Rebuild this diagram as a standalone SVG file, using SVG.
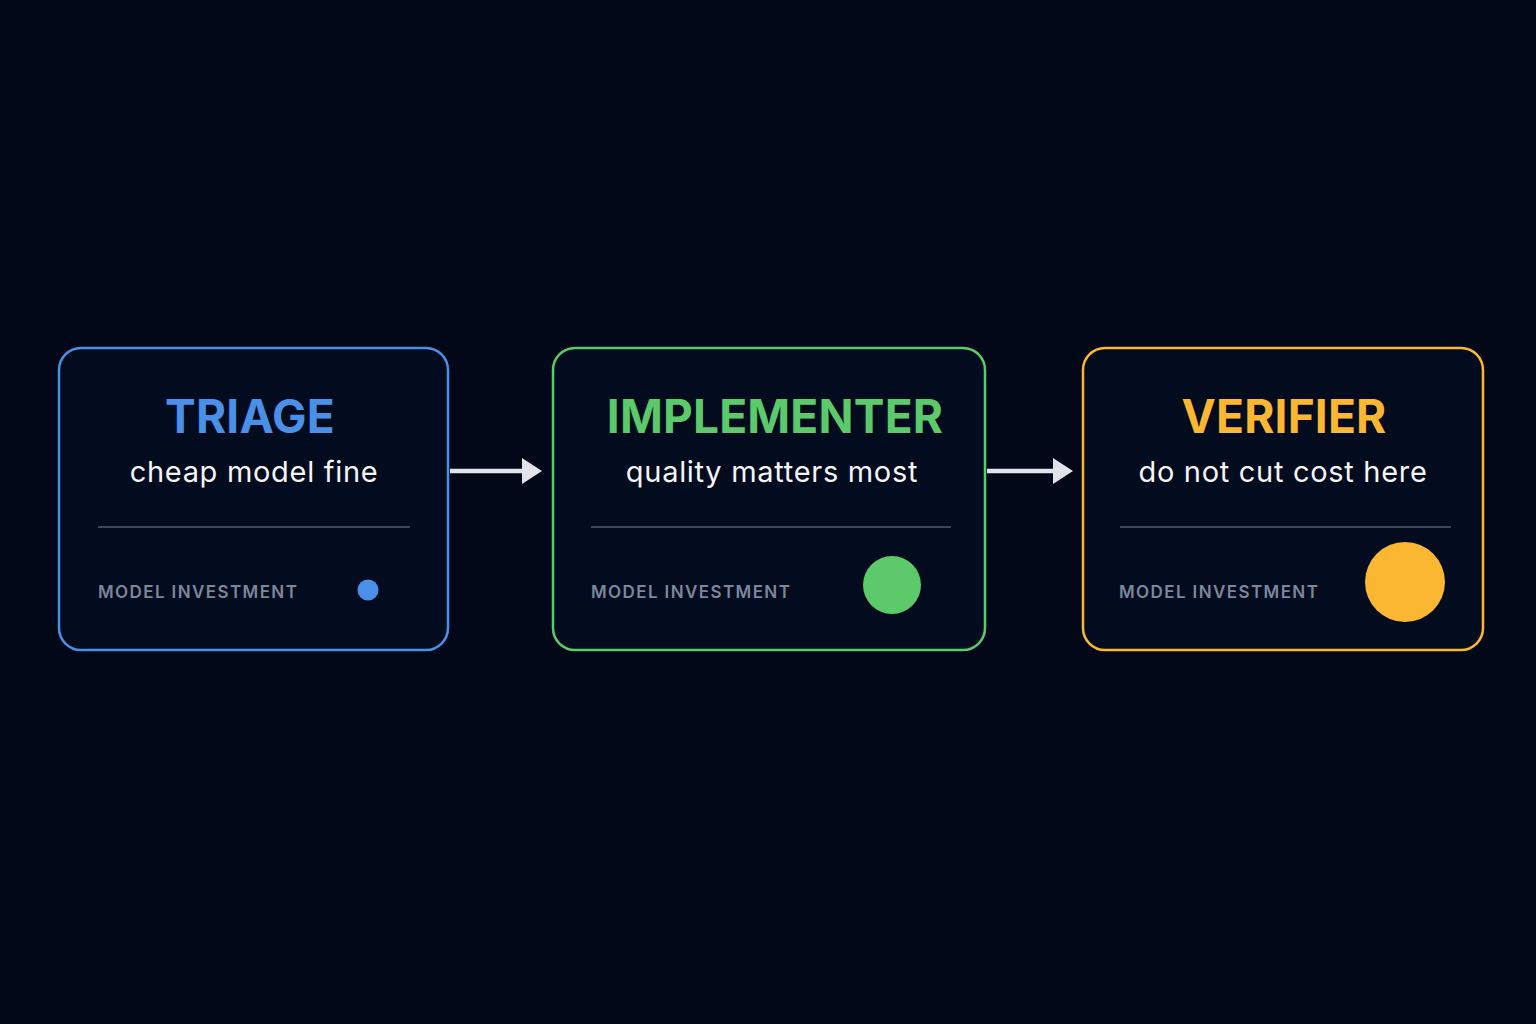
<svg xmlns="http://www.w3.org/2000/svg" width="1536" height="1024" viewBox="0 0 1536 1024">
<defs>
<style>
.box{fill:#030b1e;stroke-width:2.5}
.title{font-family:Inter,"Noto Sans",sans-serif;font-weight:700;font-size:46px;text-anchor:middle;letter-spacing:0.2px}
.sub{font-family:Inter,"Noto Sans",sans-serif;font-weight:400;font-size:29px;fill:#f4f5f8;text-anchor:middle;letter-spacing:0.7px}
.lab{font-family:Inter,"Noto Sans",sans-serif;font-weight:600;font-size:17px;fill:#7c879c;letter-spacing:1.4px}
.div{stroke:#3a465c;stroke-width:2}
.conn{stroke:#e2e4ec;stroke-width:4.5;fill:none}
</style>
<marker id="ah" viewBox="0 0 20 26" refX="0" refY="13" markerWidth="20" markerHeight="26" markerUnits="userSpaceOnUse" orient="auto">
<path d="M0,0 L20,13 L0,26 Z" fill="#e2e4ec"/>
</marker>
</defs>
<rect width="1536" height="1024" fill="#020817"/>
<g id="triage">
<rect class="box" x="59" y="348" width="389" height="302" rx="22" stroke="#4a8fe8"/>
<text class="title" x="250" y="433" fill="#4a8fe8">TRIAGE</text>
<text class="sub" x="254" y="482">cheap model fine</text>
<line class="div" x1="98" y1="527" x2="410" y2="527"/>
<text class="lab" x="98" y="598">MODEL INVESTMENT</text>
<circle cx="368" cy="590" r="10.5" fill="#4a8fe8"/>
</g>
<g id="implementer">
<rect class="box" x="553" y="348" width="432" height="302" rx="22" stroke="#5cc96b"/>
<text class="title" x="775" y="433" fill="#5cc96b">IMPLEMENTER</text>
<text class="sub" x="772" y="482">quality matters most</text>
<line class="div" x1="591" y1="527" x2="951" y2="527"/>
<text class="lab" x="591" y="598">MODEL INVESTMENT</text>
<circle cx="892" cy="585" r="29" fill="#5cc96b"/>
</g>
<g id="verifier">
<rect class="box" x="1083" y="348" width="400" height="302" rx="22" stroke="#fbb731"/>
<text class="title" x="1284" y="433" fill="#fbb731">VERIFIER</text>
<text class="sub" x="1283" y="482">do not cut cost here</text>
<line class="div" x1="1120" y1="527" x2="1451" y2="527"/>
<text class="lab" x="1119" y="598">MODEL INVESTMENT</text>
<circle cx="1405" cy="582" r="40" fill="#fbb731"/>
</g>
<g id="connectors">
<line class="conn" x1="450" y1="471" x2="522" y2="471" marker-end="url(#ah)"/>
<line class="conn" x1="987" y1="471" x2="1053" y2="471" marker-end="url(#ah)"/>
</g>
</svg>
